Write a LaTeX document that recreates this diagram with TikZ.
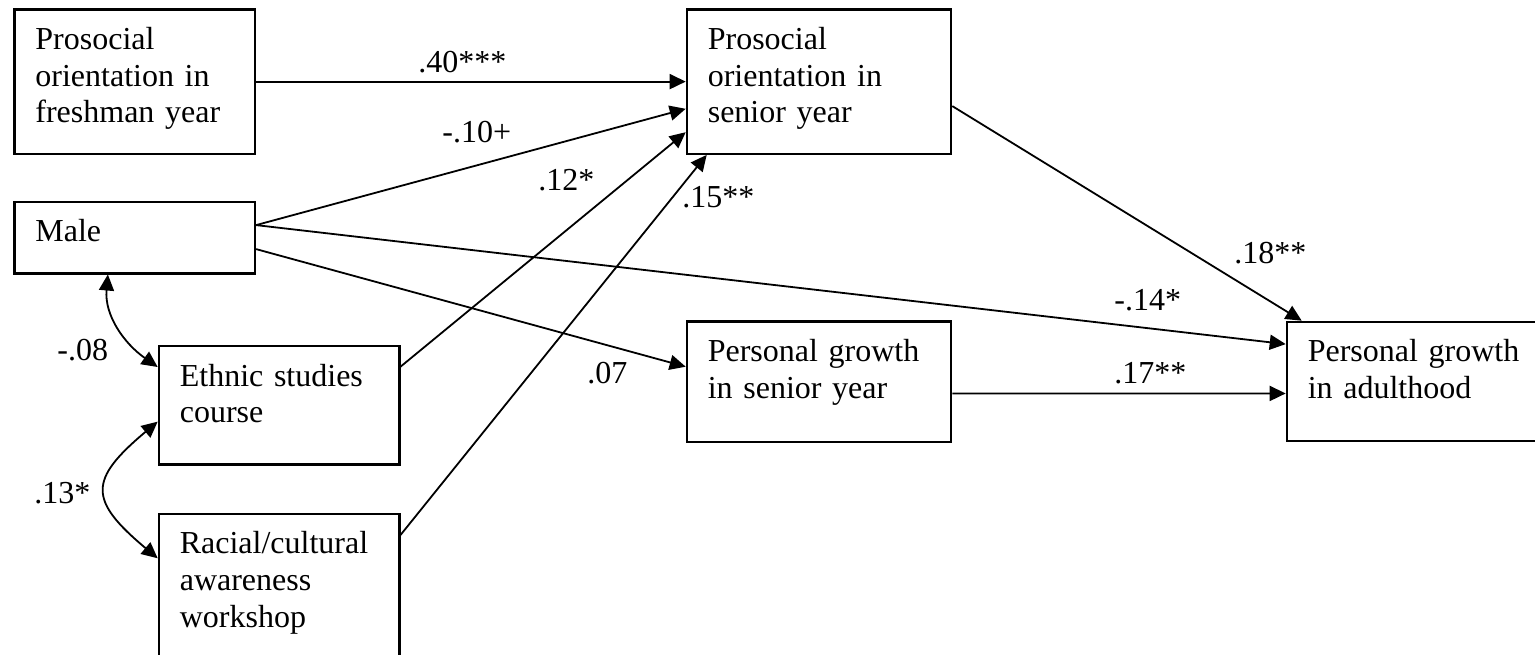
\documentclass[tikz,border=0pt]{standalone}
\usepackage{fontspec}
\setmainfont{Liberation Serif}
\usepackage{tikz}
\usetikzlibrary{arrows.meta,calc,positioning}

\tikzset{
  var/.style={draw, line width=1.1pt, anchor=north west, align=left,
    font=\fontsize{16pt}{18.3pt}\selectfont,
    inner xsep=10.5pt, inner ysep=7.2pt, text height=12.8pt},
  narrow/.style={var, text width=99.3pt},
  wide/.style={var, text width=111.2pt},
  coef/.style={anchor=base west, inner sep=0pt, font=\fontsize{16pt}{18.3pt}\selectfont},
  link/.style={line width=0.9pt, -{Triangle[length=8pt,width=7.5pt]}},
  cov/.style={line width=0.9pt, {Triangle[length=8pt,width=7.5pt]}-{Triangle[length=8pt,width=7.5pt]}}
}

\begin{document}
\begin{tikzpicture}[x=0.5pt, y=-0.5pt]
	\useasboundingbox (0,0) rectangle (1535,654);
	% Place nodes
	\node [narrow, text depth=45pt] (fresh) at (13.3,8.3) {Prosocial\\orientation in\\freshman year};
	\node [narrow, text depth=8.6pt] (male) at (13.3,200.7) {Male};
	\node [narrow, text depth=31.95pt] (ethnic) at (157.7,345) {Ethnic studies\\course};
	\node [narrow, text depth=47.8pt] (workshop) at (157.7,512.7) {Racial/cultural\\awareness\\workshop};
	\node [wide, text depth=45pt] (senior) at (685.7,8.3) {Prosocial\\orientation in\\senior year};
	\node [wide, text depth=33pt] (growth) at (685.7,320.3) {Personal growth\\in senior year};
	\node [wide, text depth=32.45pt] (adult) at (1285.7,320.7) {Personal growth\\in adulthood};

	% Draw edges
	\draw [link] (fresh.east) -- (senior.west);
	\draw [link] ([yshift=6.25pt]male.east) -- ([yshift=-13.6pt]senior.west);
	\draw [link] ([yshift=6.25pt]male.east) -- ([yshift=-11.7pt]adult.north west);
	\draw [link] ([yshift=-5.75pt]male.east) -- ([yshift=-23.2pt]growth.north west);
	\draw [link] ([yshift=-10.85pt]ethnic.north east) -- ([yshift=11.35pt]senior.south west);
	\draw [link] ([yshift=-11.15pt]workshop.north east) -- ([xshift=10.5pt]senior.south west);
	\draw [link] ([yshift=-12.25pt]senior.east) -- ([xshift=8pt]adult.north west);
	\draw [link] ([yshift=-5.9pt]growth.east) -- ([yshift=-6pt]adult.west);

	% Correlations
	\draw [cov] ([xshift=47.3pt]male.south west) to[out=-95, in=145] ([yshift=-11pt]ethnic.north west);
	\draw [cov] ([yshift=-38.3pt]ethnic.north west) to[out=220, in=140, looseness=1.7] ([yshift=-22.8pt]workshop.north west);

	% Coefficients
	\node [coef] (c40) at (418,72) {.40***};
	\node [coef] (c10) at (442,142) {-.10+};
	\node [coef] (c12) at (538,190) {.12*};
	\node [coef] (c15) at (682,207) {.15**};
	\node [coef] (c07) at (587,383) {.07};
	\node [coef] (c18) at (1234,263) {.18**};
	\node [coef] (c14) at (1114,310) {-.14*};
	\node [coef] (c17) at (1114,383) {.17**};
	\node [coef] (c08) at (57,360) {-.08};
	\node [coef] (c13) at (34,503) {.13*};
\end{tikzpicture}
\end{document}
